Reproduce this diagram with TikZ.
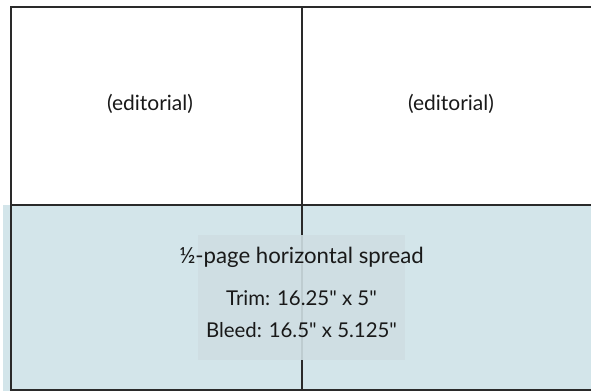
\documentclass[tikz,border=0pt]{standalone}
\usepackage{fontspec}
\setmainfont{Lato}[Ligatures=TeXOff]
\definecolor{bleedblue}{HTML}{D3E5EA}
\definecolor{boxblue}{HTML}{CFDEE3}
\definecolor{rule}{HTML}{2A2A2A}
\begin{document}
\begin{tikzpicture}[x=1pt,y=-1pt,
  frame/.style={draw=rule,line width=2pt},
  lbl/.style={font=\fontsize{21}{25}\selectfont,text=black!90,inner sep=0pt},
  head/.style={font=\fontsize{22.2}{26}\selectfont,text=black!90,inner sep=0pt},
  sub/.style={font=\fontsize{20.4}{24}\selectfont,text=black!90,inner sep=0pt}]
\useasboundingbox (0,0) rectangle (591,391);
\fill[bleedblue] (3,205) rectangle (591,391);
\coordinate (tl) at (10.5,6.5);
\coordinate (tr) at (591,6.5);
\coordinate (ml) at (10.5,205);
\coordinate (mr) at (591,205);
\coordinate (bl) at (10.5,390);
\coordinate (br) at (591,390);
\coordinate (ct) at (301.5,6.5);
\coordinate (cb) at (301.5,390);
\draw[frame] (tr) -- (tl) -- (bl) -- (br);
\draw[frame] (ml) -- (mr);
\draw[frame] (ct) -- (cb);
\node[lbl] (ed1) at (150,104) {(editorial)};
\node[lbl] (ed2) at (451,104) {(editorial)};
\fill[boxblue,fill opacity=0.9] (198,235) rectangle (405,360);
\node[head] (t1) at (301.5,257) {½-page horizontal spread};
\node[sub] (t2) at (301.5,298) {Trim: 16.25" x 5"};
\node[sub] (t3) at (301.5,330) {Bleed: 16.5" x 5.125"};
\end{tikzpicture}
\end{document}
